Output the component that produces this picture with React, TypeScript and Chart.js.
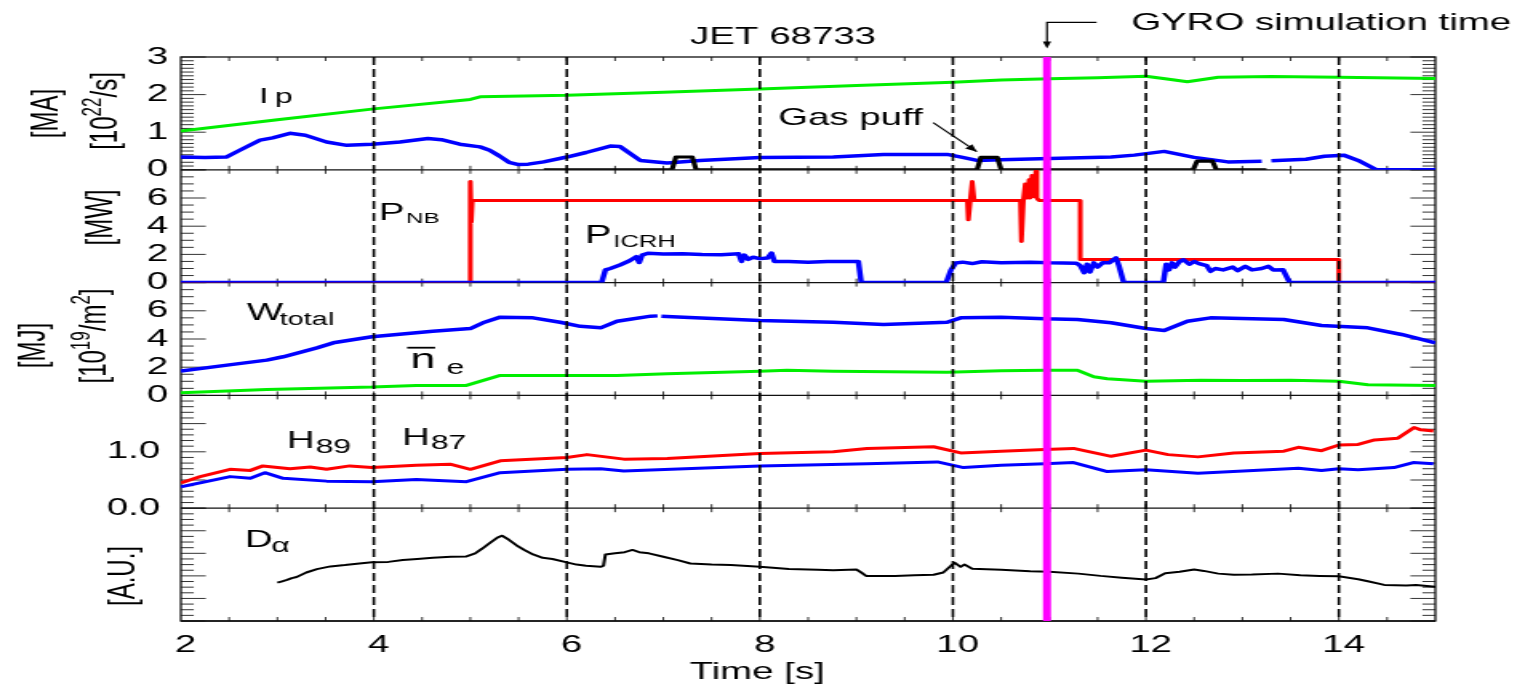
import React, { useEffect, useRef } from 'react';
import { Chart, registerables } from 'chart.js';

Chart.register(...registerables);

// ---------------- data (time in s) ----------------
// Panel 1: plasma current Ip [MA]
const ipTime = [2, 3, 4, 5, 5.1, 6, 7, 8, 9, 10, 10.5, 11, 11.5, 12, 12.2, 12.43, 12.75, 13.3, 14, 15];
const ipMA = [1.03, 1.33, 1.62, 1.87, 1.94, 1.98, 2.06, 2.15, 2.24, 2.33, 2.39, 2.42, 2.45, 2.49, 2.42, 2.34, 2.46, 2.48, 2.46, 2.43];

// Panel 1: gas fuelling rate [10^22/s]
const gasTime = [2, 2.25, 2.47, 2.61, 2.82, 2.95, 3.13, 3.29, 3.51, 3.72, 3.98, 4.27, 4.56, 4.7, 4.89, 5.1, 5.2, 5.3, 5.4, 5.5, 5.6, 5.76, 6.0, 6.2, 6.45, 6.55, 6.76, 7.04, 7.38, 8.0, 8.76, 9.28, 9.94, 10.1, 10.25, 10.5, 11.0, 11.64, 11.88, 12.19, 12.5, 12.85, 13.2, 13.25, 13.3, 13.66, 13.85, 14.05, 14.2, 14.39, 15];
const gasRate = [0.34, 0.33, 0.34, 0.52, 0.79, 0.85, 0.97, 0.92, 0.74, 0.65, 0.68, 0.74, 0.83, 0.8, 0.68, 0.61, 0.52, 0.37, 0.2, 0.14, 0.15, 0.21, 0.34, 0.46, 0.63, 0.62, 0.25, 0.18, 0.25, 0.33, 0.34, 0.41, 0.41, 0.33, 0.25, 0.27, 0.3, 0.34, 0.39, 0.49, 0.33, 0.21, 0.23, null, 0.24, 0.28, 0.36, 0.39, 0.25, 0, 0];

// Panel 1: gas puff waveform
const puffTime = [5.76, 7.09, 7.13, 7.3, 7.34, 10.25, 10.29, 10.46, 10.5, 12.49, 12.53, 12.69, 12.73, 13.25];
const puffRate = [0, 0, 0.34, 0.34, 0, 0, 0.33, 0.33, 0, 0, 0.23, 0.23, 0, 0];

// Panel 2: NBI power [MW]
const nbTime = [2, 5.0, 5.0, 5.01, 5.02, 10.15, 10.16, 10.18, 10.2, 10.22, 10.7, 10.71, 10.73, 10.75, 10.77, 10.79, 10.8, 10.82, 10.84, 10.86, 10.87, 10.89, 11.32, 11.32, 14.0, 14.0, 15];
const nbMW = [0, 0, 7.17, 4.3, 5.83, 5.83, 4.45, 5.83, 7.17, 5.83, 5.83, 2.92, 5.83, 7.0, 6.0, 7.3, 6.0, 7.6, 6.1, 7.9, 6.0, 5.83, 5.83, 1.63, 1.63, 0, 0];

// Panel 2: ICRH power [MW]
const icTime = [2, 6.36, 6.4, 6.45, 6.55, 6.65, 6.72, 6.75, 6.78, 6.84, 7.0, 7.2, 7.4, 7.6, 7.78, 7.81, 7.84, 7.88, 7.93, 8.0, 8.08, 8.12, 8.15, 8.3, 8.5, 8.7, 9.02, 9.05, 9.93, 9.98, 10.03, 10.1, 10.2, 10.3, 10.5, 10.8, 11.0, 11.28, 11.32, 11.36, 11.39, 11.42, 11.46, 11.5, 11.55, 11.62, 11.69, 11.72, 11.77, 12.18, 12.21, 12.24, 12.27, 12.3, 12.35, 12.39, 12.45, 12.5, 12.55, 12.63, 12.67, 12.72, 12.8, 12.9, 12.95, 13.03, 13.1, 13.2, 13.27, 13.32, 13.42, 13.49, 15];
const icMW = [0, 0, 0.9, 1.0, 1.25, 1.55, 1.84, 1.42, 1.95, 2.08, 2.02, 2.05, 2.0, 1.98, 2.05, 1.5, 1.95, 1.65, 1.8, 1.7, 1.75, 2.1, 1.5, 1.5, 1.45, 1.5, 1.5, 0, 0, 0.9, 1.4, 1.45, 1.35, 1.48, 1.4, 1.45, 1.4, 1.38, 1.2, 0.7, 1.3, 0.75, 1.4, 1.1, 1.4, 1.4, 1.75, 1.2, 0, 0, 1.3, 0.9, 1.4, 1.1, 1.5, 1.62, 1.3, 1.5, 1.35, 1.2, 0.8, 1.0, 0.9, 1.1, 0.85, 1.15, 0.9, 1.0, 1.15, 0.9, 0.92, 0, 0];

// Panel 3: stored energy W_total [MJ]
const wTime = [2, 2.54, 2.89, 3.06, 3.41, 3.58, 3.98, 4.61, 5.0, 5.13, 5.31, 5.65, 5.93, 6.14, 6.35, 6.52, 6.87, 6.94, 6.96, 6.98, 7.21, 8.0, 8.76, 9.28, 9.94, 10.08, 10.5, 10.95, 11.29, 11.64, 12.0, 12.19, 12.43, 12.67, 13.43, 13.82, 14.3, 14.65, 15];
const wMJ = [1.72, 2.2, 2.5, 2.74, 3.37, 3.73, 4.16, 4.55, 4.74, 5.15, 5.55, 5.5, 5.19, 4.9, 4.79, 5.26, 5.62, 5.64, null, 5.62, 5.55, 5.31, 5.19, 5.03, 5.19, 5.5, 5.55, 5.43, 5.38, 5.15, 4.74, 4.6, 5.26, 5.5, 5.38, 4.96, 4.79, 4.32, 3.73];

// Panel 3: line-averaged density [10^19/m^2]
const neTime = [2, 2.89, 3.98, 4.44, 4.96, 5.1, 5.31, 6.0, 6.52, 7.04, 8.0, 8.28, 8.76, 9.94, 10.5, 10.95, 11.29, 11.46, 11.6, 12.0, 12.57, 13.0, 13.5, 14.0, 14.3, 15];
const neValue = [0.19, 0.42, 0.59, 0.71, 0.71, 1.0, 1.42, 1.42, 1.42, 1.54, 1.72, 1.79, 1.72, 1.65, 1.75, 1.79, 1.79, 1.32, 1.18, 1.01, 1.08, 1.05, 1.08, 1.01, 0.76, 0.71];

// Panel 4: confinement factors (red: upper, blue: lower)
const hRedTime = [2, 2.2, 2.51, 2.72, 2.85, 3.13, 3.34, 3.51, 3.75, 3.98, 4.44, 4.79, 5.0, 5.31, 6.0, 6.21, 6.59, 7.04, 8.0, 8.76, 9.11, 9.8, 10.08, 10.5, 10.95, 11.25, 11.64, 12.0, 12.23, 12.54, 12.91, 13.43, 13.58, 13.82, 14.0, 14.2, 14.37, 14.61, 14.78, 14.85, 14.98];
const hRed = [0.45, 0.56, 0.69, 0.67, 0.75, 0.7, 0.73, 0.69, 0.75, 0.72, 0.76, 0.78, 0.69, 0.84, 0.9, 0.95, 0.87, 0.88, 0.97, 1.0, 1.06, 1.09, 0.98, 1.01, 1.04, 1.06, 0.92, 1.03, 0.95, 0.91, 0.98, 1.01, 1.08, 1.02, 1.12, 1.13, 1.21, 1.24, 1.43, 1.39, 1.37];
const hBlueTime = [2, 2.51, 2.72, 2.87, 3.06, 3.51, 3.98, 4.44, 4.96, 5.31, 6.0, 6.35, 6.59, 8.0, 9.11, 9.84, 10.11, 10.5, 10.95, 11.25, 11.6, 12.0, 12.54, 13.27, 13.58, 13.82, 14.0, 14.2, 14.57, 14.77, 14.98];
const hBlue = [0.38, 0.56, 0.53, 0.63, 0.53, 0.48, 0.47, 0.51, 0.47, 0.63, 0.69, 0.7, 0.66, 0.75, 0.79, 0.82, 0.72, 0.76, 0.79, 0.81, 0.65, 0.68, 0.62, 0.68, 0.71, 0.67, 0.7, 0.68, 0.72, 0.81, 0.79];

// Panel 5: D-alpha [A.U.]
const daTime = [3.0, 3.05, 3.1, 3.15, 3.2, 3.3, 3.41, 3.55, 3.7, 3.85, 3.98, 4.15, 4.3, 4.45, 4.61, 4.8, 4.96, 5.05, 5.12, 5.2, 5.28, 5.33, 5.4, 5.48, 5.56, 5.65, 5.75, 5.85, 6.0, 6.1, 6.2, 6.35, 6.38, 6.4, 6.5, 6.6, 6.68, 6.75, 6.85, 7.0, 7.15, 7.28, 7.5, 7.7, 8.0, 8.3, 8.6, 8.76, 9.0, 9.05, 9.1, 9.4, 9.6, 9.8, 9.9, 9.98, 10.02, 10.08, 10.12, 10.2, 10.5, 10.8, 11.0, 11.3, 11.53, 11.75, 12.0, 12.1, 12.2, 12.35, 12.5, 12.6, 12.75, 12.91, 13.1, 13.37, 13.6, 13.8, 14.0, 14.2, 14.3, 14.47, 14.7, 14.8, 15.0];
const daValue = [1.7, 1.76, 1.82, 1.9, 1.95, 2.15, 2.3, 2.42, 2.48, 2.55, 2.6, 2.62, 2.7, 2.75, 2.8, 2.85, 2.86, 3.0, 3.2, 3.45, 3.7, 3.78, 3.6, 3.35, 3.15, 2.95, 2.8, 2.75, 2.6, 2.5, 2.45, 2.4, 2.45, 2.95, 3.0, 3.05, 3.15, 3.05, 3.0, 2.85, 2.7, 2.55, 2.5, 2.48, 2.4, 2.3, 2.27, 2.25, 2.28, 2.15, 2.0, 2.0, 2.03, 2.05, 2.15, 2.45, 2.58, 2.4, 2.5, 2.32, 2.27, 2.2, 2.18, 2.1, 2.0, 1.92, 1.84, 1.9, 2.12, 2.18, 2.28, 2.22, 2.1, 2.05, 2.06, 2.1, 2.03, 2.0, 1.98, 1.85, 1.76, 1.6, 1.57, 1.6, 1.52];

// Axis ticks
const xTickLabels = [2, 4, 6, 8, 10, 12, 14];
const dashedTimes = [4, 6, 8, 10, 12, 14];
const gyroTime = 10.975;

// ---------------- layout constants ----------------
const LOGICAL_W = 953;
const H = 686;
const CSS_W = 1525;
const FONT = "'Liberation Sans', Arial, Helvetica, sans-serif";

const PANELS = [
  { id: 'y1', max: 3, minor: 0.1, major: 1 },
  { id: 'y2', max: 8, minor: 0.5, major: 2 },
  { id: 'y3', max: 8, minor: 0.5, major: 2 },
  { id: 'y4', max: 2, minor: 0.1, major: 0.5 },
  { id: 'y5', max: 5, minor: 0.25, major: 1 },
];

type Part = { t: string; s: number; dy?: number; dx?: number };

function drawParts(ctx: CanvasRenderingContext2D, parts: Part[], x: number, y: number, rotate = false, align: 'left' | 'center' = 'left') {
  ctx.save();
  ctx.translate(x, y);
  if (rotate) ctx.rotate(-Math.PI / 2);
  ctx.textBaseline = 'alphabetic';
  ctx.textAlign = 'left';
  ctx.fillStyle = '#000';
  let total = 0;
  const widths = parts.map((p) => {
    ctx.font = `${p.s}px ${FONT}`;
    const w = ctx.measureText(p.t).width + (p.dx || 0);
    total += w;
    return w;
  });
  let cx = align === 'center' ? -total / 2 : 0;
  parts.forEach((p, i) => {
    ctx.font = `${p.s}px ${FONT}`;
    ctx.fillText(p.t, cx + (p.dx || 0), p.dy || 0);
    cx += widths[i];
  });
  ctx.restore();
}

const pts = (t: number[], v: (number | null)[]) => t.map((x, i) => ({ x, y: v[i] }));

const decorPlugin = {
  id: 'decor',
  beforeDatasetsDraw(chart: any) {
    const { ctx, chartArea } = chart;
    const xs = chart.scales.x;
    ctx.save();
    ctx.strokeStyle = '#333';
    ctx.lineWidth = 1;
    PANELS.forEach((p) => {
      const s = chart.scales[p.id];
      const n = Math.round(p.max / p.minor);
      for (let i = 0; i <= n; i++) {
        const v = i * p.minor;
        const y = s.getPixelForValue(v);
        const r = v / p.major;
        const major = Math.abs(r - Math.round(r)) < 1e-6;
        const len = major ? 15.6 : 8.1;
        ctx.beginPath();
        ctx.moveTo(chartArea.left, y);
        ctx.lineTo(chartArea.left + len, y);
        ctx.moveTo(chartArea.right, y);
        ctx.lineTo(chartArea.right - len, y);
        ctx.stroke();
      }
      for (let k = 1; k < 26; k++) {
        const px = xs.getPixelForValue(2 + k * 0.5);
        ctx.beginPath();
        ctx.moveTo(px, s.bottom);
        ctx.lineTo(px, s.bottom - 4);
        ctx.moveTo(px, s.top);
        ctx.lineTo(px, s.top + 4);
        ctx.stroke();
      }
    });
    ctx.strokeStyle = '#111';
    ctx.lineWidth = 1.3;
    ctx.strokeRect(chartArea.left, chartArea.top, chartArea.right - chartArea.left, chartArea.bottom - chartArea.top);
    PANELS.forEach((p) => {
      const s = chart.scales[p.id];
      ctx.beginPath();
      ctx.moveTo(chartArea.left, s.bottom);
      ctx.lineTo(chartArea.right, s.bottom);
      ctx.stroke();
    });
    ctx.restore();
  },
  afterDatasetsDraw(chart: any) {
    const { ctx, chartArea } = chart;
    const xs = chart.scales.x;
    ctx.save();
    // dashed time markers
    ctx.strokeStyle = '#000';
    ctx.lineWidth = 1.6;
    ctx.setLineDash([8, 4]);
    dashedTimes.forEach((t) => {
      const px = xs.getPixelForValue(t);
      ctx.beginPath();
      ctx.moveTo(px, chartArea.top);
      ctx.lineTo(px, chartArea.bottom);
      ctx.stroke();
    });
    ctx.setLineDash([]);
    // GYRO time
    const gx = xs.getPixelForValue(gyroTime);
    ctx.strokeStyle = '#ff00ff';
    ctx.lineWidth = 5;
    ctx.beginPath();
    ctx.moveTo(gx, chartArea.top);
    ctx.lineTo(gx, chartArea.bottom);
    ctx.stroke();

    // GYRO arrow
    ctx.strokeStyle = '#000';
    ctx.fillStyle = '#000';
    ctx.lineWidth = 1.2;
    ctx.beginPath();
    ctx.moveTo(gx + 31, 22.3);
    ctx.lineTo(gx, 22.3);
    ctx.lineTo(gx, 43);
    ctx.stroke();
    ctx.beginPath();
    ctx.moveTo(gx - 2.6, 41.5);
    ctx.lineTo(gx + 2.6, 41.5);
    ctx.lineTo(gx, 48.5);
    ctx.closePath();
    ctx.fill();

    // Gas puff arrow
    const ax0 = 583.1, ay0 = 122.7, ax1 = 610.4, ay1 = 151.7;
    ctx.lineWidth = 1.2;
    ctx.beginPath();
    ctx.moveTo(ax0, ay0);
    ctx.lineTo(ax1, ay1);
    ctx.stroke();
    const ang = Math.atan2(ay1 - ay0, ax1 - ax0);
    ctx.beginPath();
    ctx.moveTo(ax1, ay1);
    ctx.lineTo(ax1 - 8 * Math.cos(ang - 0.4), ay1 - 8 * Math.sin(ang - 0.4));
    ctx.lineTo(ax1 - 8 * Math.cos(ang + 0.4), ay1 - 8 * Math.sin(ang + 0.4));
    ctx.closePath();
    ctx.fill();

    // n-bar overline
    ctx.lineWidth = 1.8;
    ctx.beginPath();
    ctx.moveTo(254.4, 347.7);
    ctx.lineTo(271.9, 347.7);
    ctx.stroke();

    // titles
    drawParts(ctx, [{ t: 'JET 68733', s: 24 }], 489.4, 44, false, 'center');
    drawParts(ctx, [{ t: 'GYRO simulation time', s: 24 }], 825.6, 30, false, 'center');
    drawParts(ctx, [{ t: 'Time [s]', s: 24 }], 473.1, 679, false, 'center');

    // trace labels
    drawParts(ctx, [{ t: 'I', s: 22 }, { t: 'p', s: 20, dx: 4 }], 161.7, 103);
    drawParts(ctx, [{ t: 'Gas puff', s: 24 }], 486.3, 125);
    drawParts(ctx, [{ t: 'P', s: 24 }, { t: 'NB', s: 15, dx: 1, dy: 3 }], 236.8, 220);
    drawParts(ctx, [{ t: 'P', s: 25 }, { t: 'ICRH', s: 16, dx: 1, dy: 4 }], 365.6, 243);
    drawParts(ctx, [{ t: 'W', s: 24 }, { t: 'total', s: 18, dx: -2, dy: 5 }], 154.2, 320);
    drawParts(ctx, [{ t: 'n', s: 28 }, { t: 'e', s: 20, dx: 7, dy: 6 }], 256.4, 368);
    drawParts(ctx, [{ t: 'H', s: 24 }, { t: '89', s: 20, dx: 0.6, dy: 5 }], 179.3, 448);
    drawParts(ctx, [{ t: 'H', s: 24 }, { t: '87', s: 20, dx: 0.6, dy: 4 }], 251.2, 445);
    drawParts(ctx, [{ t: 'D', s: 24 }, { t: '\u03b1', s: 20, dx: -1, dy: 5 }], 153.1, 547);

    // rotated unit labels
    drawParts(ctx, [{ t: '[MA]', s: 24 }], 35.6, 113.5, true, 'center');
    drawParts(ctx, [{ t: '[10', s: 24 }, { t: '22', s: 17, dy: -10 }, { t: '/s]', s: 24 }], 73.1, 111, true, 'center');
    drawParts(ctx, [{ t: '[MW]', s: 24 }], 69.6, 217.5, true, 'center');
    drawParts(ctx, [{ t: '[MJ]', s: 24 }], 28.1, 345.5, true, 'center');
    drawParts(ctx, [{ t: '[10', s: 24 }, { t: '19', s: 17, dy: -10 }, { t: '/m', s: 24 }, { t: '2', s: 17, dy: -10 }, { t: ']', s: 24 }], 65.9, 336, true, 'center');
    drawParts(ctx, [{ t: '[A.U.]', s: 24 }], 84, 576, true, 'center');
    ctx.restore();
  },
};

function yScale(id: string, max: number, weight: number, step: number, label: (v: number) => string, pad: number, show = true) {
  return {
    type: 'linear',
    position: 'left',
    stack: 'panels',
    stackWeight: 1,
    weight,
    min: 0,
    max,
    offset: false,
    grid: { display: false, drawTicks: false },
    border: { display: false },
    ticks: {
      display: show,
      stepSize: step,
      autoSkip: false,
      padding: pad,
      color: '#000',
      font: { family: FONT, size: 24 },
      callback: (v: number) => label(v),
    },
    afterFit: (s: any) => {
      s.width = 113;
    },
  };
}

export default function App() {
  const ref = useRef<HTMLCanvasElement | null>(null);

  useEffect(() => {
    document.body.style.margin = '0';
    document.body.style.overflow = 'hidden';
    const canvas = ref.current;
    if (!canvas) return;
    const common = { pointRadius: 0, tension: 0, fill: false, borderJoinStyle: 'round', spanGaps: false, xAxisID: 'x' };
    const chart = new Chart(canvas, {
      type: 'line',
      data: {
        datasets: [
          { ...common, data: pts(ipTime, ipMA), borderColor: '#00ee00', borderWidth: 3, yAxisID: 'y1' },
          { ...common, data: pts(puffTime, puffRate), borderColor: '#000000', borderWidth: 3.2, yAxisID: 'y1' },
          { ...common, data: pts(gasTime, gasRate), borderColor: '#0000ff', borderWidth: 3.5, yAxisID: 'y1' },
          { ...common, data: pts(icTime, icMW), borderColor: '#0000ff', borderWidth: 3.5, yAxisID: 'y2' },
          { ...common, data: pts(nbTime, nbMW), borderColor: '#ff0000', borderWidth: 3, yAxisID: 'y2' },
          { ...common, data: pts(wTime, wMJ), borderColor: '#0000ff', borderWidth: 3.5, yAxisID: 'y3' },
          { ...common, data: pts(neTime, neValue), borderColor: '#00ee00', borderWidth: 3, yAxisID: 'y3' },
          { ...common, data: pts(hRedTime, hRed), borderColor: '#ff0000', borderWidth: 3, yAxisID: 'y4' },
          { ...common, data: pts(hBlueTime, hBlue), borderColor: '#0000ff', borderWidth: 3, yAxisID: 'y4' },
          { ...common, data: pts(daTime, daValue), borderColor: '#000000', borderWidth: 2, yAxisID: 'y5' },
        ] as any,
      },
      options: {
        animation: false,
        responsive: false,
        maintainAspectRatio: false,
        devicePixelRatio: 1,
        events: [],
        layout: { padding: { top: 57, right: 56, left: 0, bottom: 0 } },
        plugins: { legend: { display: false }, tooltip: { enabled: false }, title: { display: false } },
        scales: {
          x: {
            type: 'linear',
            position: 'bottom',
            min: 2,
            max: 15,
            grid: { display: false, drawTicks: false },
            border: { display: false },
            ticks: {
              stepSize: 2,
              includeBounds: false,
              autoSkip: false,
              maxRotation: 0,
              padding: 10,
              labelOffset: 3,
              color: '#000',
              font: { family: FONT, size: 24 },
              callback: (v: number) => (xTickLabels.includes(v) ? String(v) : ''),
            },
            afterFit: (s: any) => {
              s.height = 65;
            },
          },
          y1: yScale('y1', 3, 5, 1, (v) => String(v), 8),
          y2: yScale('y2', 8, 4, 2, (v) => (v < 8 ? String(v) : ''), 8),
          y3: yScale('y3', 8, 3, 2, (v) => (v < 8 ? String(v) : ''), 8),
          y4: yScale('y4', 2, 2, 0.5, (v) => (v === 0 || v === 1 ? v.toFixed(1) : ''), 13),
          y5: yScale('y5', 5, 1, 1, () => '', 8, false),
        } as any,
      },
      plugins: [decorPlugin as any],
    });
    return () => chart.destroy();
  }, []);

  return (
    <div style={{ position: 'absolute', left: 0, top: 0, width: CSS_W, height: H, overflow: 'hidden', background: '#fff' }}>
      <canvas ref={ref} width={LOGICAL_W} height={H} style={{ width: `${CSS_W}px`, height: `${H}px`, display: 'block' }} />
    </div>
  );
}
